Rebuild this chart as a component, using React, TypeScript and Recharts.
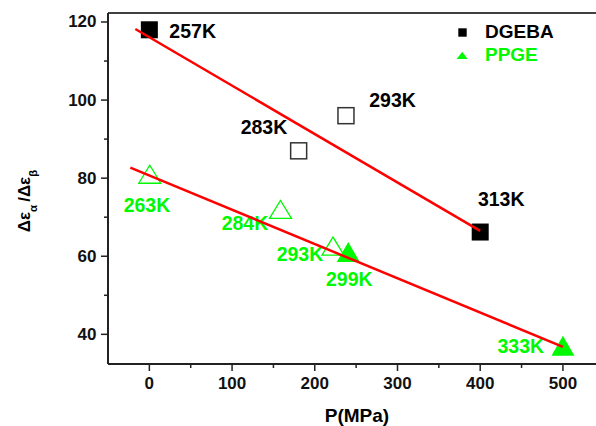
import React from 'react';
import { ScatterChart, Scatter, XAxis, YAxis, Legend } from 'recharts';

const seriesNames = ['DGEBA', 'PPGE'];
const xTicks = [0, 50, 100, 150, 200, 250, 300, 350, 400, 450, 500];
const yTicks = [40, 50, 60, 70, 80, 90, 100, 110, 120];
const xTitle = 'P(MPa)';

const dgebaFilled = [
  { p: 0, r: 118.0, label: '257K' },
  { p: 400, r: 66.2, label: '313K' },
];
const dgebaOpen = [
  { p: 180.5, r: 87.0, label: '283K' },
  { p: 237.7, r: 96.0, label: '293K' },
];
const ppgeOpen = [
  { p: 0.5, r: 81.0, label: '263K' },
  { p: 158.5, r: 72.0, label: '284K' },
  { p: 222, r: 62.6, label: '293K' },
];
const ppgeFilled = [
  { p: 240.5, r: 61.1, label: '299K' },
  { p: 500, r: 37.1, label: '333K' },
];
const fitDgeba = [
  { p: -17, r: 118.2 },
  { p: 400, r: 66.5 },
];
const fitPpge = [
  { p: -23, r: 82.7 },
  { p: 500, r: 36.8 },
];

const FONT = "'Liberation Sans', Arial, sans-serif";
const GREEN = '#00f800';
const AXIS = '#222';

type Off = [number, number, 'start' | 'middle' | 'end'];
const offsDgebaFilled: Record<string, Off> = { '257K': [20, 1.5, 'start'], '313K': [-2.3, -32.7, 'start'] };
const offsDgebaOpen: Record<string, Off> = { '283K': [-11.4, -24, 'end'], '293K': [23.3, -15.7, 'start'] };
const offsPpgeOpen: Record<string, Off> = { '263K': [-2.8, 30.8, 'middle'], '284K': [-12.2, 13.5, 'end'], '293K': [-9.7, 8, 'end'] };
const offsPpgeFilled: Record<string, Off> = { '299K': [-22.3, 27.3, 'start'], '333K': [-18.8, 0, 'end'] };

function makeShape(kind: string, color: string, offs: Record<string, Off>) {
  return (props: any) => {
    const { cx, cy, payload } = props;
    if (cx == null || cy == null) return <g />;
    let marker: any = null;
    if (kind === 'fsq') marker = <rect x={cx - 8.5} y={cy - 8.5} width={17} height={17} fill={color} />;
    if (kind === 'osq')
      marker = <rect x={cx - 8} y={cy - 8} width={16} height={16} fill="none" stroke="#333" strokeWidth={1.5} />;
    if (kind === 'otri')
      marker = (
        <polygon
          points={`${cx - 11},${cy + 9} ${cx + 11},${cy + 9} ${cx},${cy - 9}`}
          fill="none"
          stroke={color}
          strokeWidth={1.3}
        />
      );
    if (kind === 'ftri')
      marker = <polygon points={`${cx - 11.5},${cy + 10} ${cx + 11.5},${cy + 10} ${cx},${cy - 10}`} fill={color} />;
    const o = offs[payload.label];
    return (
      <g>
        {marker}
        {o && (
          <text
            x={cx + o[0]}
            y={cy + o[1]}
            textAnchor={o[2]}
            dominantBaseline="central"
            fontFamily={FONT}
            fontWeight="bold"
            fontSize={19.5}
            fill={color === '#000' || kind === 'osq' ? '#000' : color}
          >
            {payload.label}
          </text>
        )}
      </g>
    );
  };
}

const XTick = (props: any) => {
  const { x, y, payload } = props;
  const major = payload.value % 100 === 0;
  return (
    <g>
      <line x1={x} x2={x} y1={y} y2={y + (major ? 7 : 4)} stroke={AXIS} strokeWidth={1.5} />
      {major && (
        <text x={x} y={y + 19.5} textAnchor="middle" dominantBaseline="central" fontFamily={FONT} fontWeight="bold" fontSize={17} fill="#111">
          {payload.value}
        </text>
      )}
    </g>
  );
};

const YTick = (props: any) => {
  const { x, y, payload } = props;
  const major = payload.value % 20 === 0;
  return (
    <g>
      <line x1={x} x2={x - (major ? 7 : 4)} y1={y} y2={y} stroke={AXIS} strokeWidth={1.5} />
      {major && (
        <text x={x - 11.5} y={y} textAnchor="end" dominantBaseline="central" fontFamily={FONT} fontWeight="bold" fontSize={17} fill="#111">
          {payload.value}
        </text>
      )}
    </g>
  );
};

const LegendContent = () => (
  <svg width={130} height={50} style={{ display: 'block' }}>
    <rect x={8.3} y={8.3} width={8.4} height={8.4} fill="#000" />
    <text x={35} y={11.7} dominantBaseline="central" fontFamily={FONT} fontWeight="bold" fontSize={19} fill="#000">
      {seriesNames[0]}
    </text>
    <polygon points="6.7,39 17.7,39 12.2,31.7" fill={GREEN} />
    <text x={35} y={34.3} dominantBaseline="central" fontFamily={FONT} fontWeight="bold" fontSize={19} fill={GREEN}>
      {seriesNames[1]}
    </text>
  </svg>
);

const YTitle = () => (
  <text transform="translate(30,201) rotate(-90)" textAnchor="middle" fontFamily={FONT} fontWeight="bold" fontSize={17} fill="#000">
    <tspan>Δε</tspan>
    <tspan fontSize={11.5} dy={7}>α</tspan>
    <tspan dy={-7} dx={3}>/</tspan>
    <tspan>Δε</tspan>
    <tspan fontSize={11.5} dy={7}>β</tspan>
  </text>
);

const XTitle = () => (
  <text x={357} y={415} textAnchor="middle" dominantBaseline="central" fontFamily={FONT} fontWeight="bold" fontSize={19} fill="#000">
    {xTitle}
  </text>
);

export default function App() {
  return (
    <div style={{ position: 'absolute', left: 0, top: 0, width: 596, height: 426, background: '#fff' }}>
      <ScatterChart width={596} height={426} margin={{ top: 12, right: 0, bottom: 61, left: 107 }}>
        <XAxis
          dataKey="p"
          type="number"
          domain={[-50, 540]}
          allowDataOverflow
          ticks={xTicks}
          interval={0}
          height={1}
          tickSize={0}
          tickMargin={0}
          tickLine={false}
          tick={<XTick />}
          axisLine={{ stroke: AXIS, strokeWidth: 2 }}
          label={{ content: <XTitle /> } as any}
        />
        <XAxis
          xAxisId="top"
          dataKey="p"
          type="number"
          orientation="top"
          domain={[-50, 540]}
          allowDataOverflow
          height={1}
          tick={false}
          tickLine={false}
          axisLine={{ stroke: '#000', strokeWidth: 1.5 }}
        />
        <YAxis
          dataKey="r"
          type="number"
          domain={[32.4, 122.3]}
          allowDataOverflow
          ticks={yTicks}
          interval={0}
          width={1}
          tickSize={0}
          tickMargin={0}
          tickLine={false}
          tick={<YTick />}
          axisLine={{ stroke: AXIS, strokeWidth: 2 }}
          label={{ content: <YTitle /> } as any}
        />
        <Legend
          layout="vertical"
          align="center"
          verticalAlign="middle"
          wrapperStyle={{ left: 450, top: 20, width: 130, height: 50 }}
          content={<LegendContent />}
        />
        <Scatter name="DGEBA" data={dgebaFilled} shape={makeShape('fsq', '#000', offsDgebaFilled)} isAnimationActive={false} />
        <Scatter name="DGEBA open" data={dgebaOpen} shape={makeShape('osq', '#000', offsDgebaOpen)} isAnimationActive={false} legendType="none" />
        <Scatter name="PPGE open" data={ppgeOpen} shape={makeShape('otri', GREEN, offsPpgeOpen)} isAnimationActive={false} legendType="none" />
        <Scatter name="PPGE" data={ppgeFilled} shape={makeShape('ftri', GREEN, offsPpgeFilled)} isAnimationActive={false} />
        <Scatter
          name="fit1"
          data={fitDgeba}
          line={{ stroke: '#ff0000', strokeWidth: 2.5 }}
          shape={() => <g />}
          isAnimationActive={false}
          legendType="none"
        />
        <Scatter
          name="fit2"
          data={fitPpge}
          line={{ stroke: '#ff0000', strokeWidth: 2.5 }}
          shape={() => <g />}
          isAnimationActive={false}
          legendType="none"
        />
      </ScatterChart>
    </div>
  );
}
